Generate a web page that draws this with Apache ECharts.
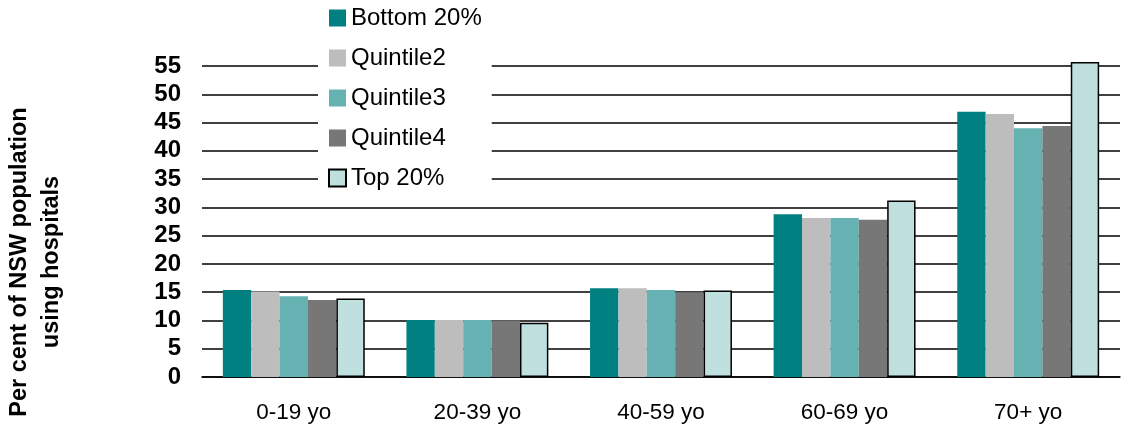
<!DOCTYPE html>
<html>
<head>
<meta charset="utf-8">
<script src="https://cdn.jsdelivr.net/npm/echarts@6/dist/echarts.min.js"></script>
<style>
  html, body { margin: 0; padding: 0; background: #fff; }
  #chart { width: 1125px; height: 432px; }
</style>
</head>
<body>
<div id="chart"></div>
<script>
var chart = echarts.init(document.getElementById('chart'));

// age groups
var categories = ['0-19 yo', '20-39 yo', '40-59 yo', '60-69 yo', '70+ yo'];
// per cent of population using hospitals, by income quintile
var bottom20 = [15.4, 10.1, 15.7, 28.8, 46.9];
var quintile2 = [15.1, 10.1, 15.7, 28.1, 46.5];
var quintile3 = [14.3, 10.1, 15.4, 28.1, 44.0];
var quintile4 = [13.6, 10.0, 15.0, 27.8, 44.4];
var top20 = [13.9, 9.6, 15.3, 31.2, 55.7];

var names = ['Bottom 20%', 'Quintile2', 'Quintile3', 'Quintile4', 'Top 20%'];
var colors = ['#008080', '#BDBDBD', '#66B2B2', '#777777', '#C0E0E0'];
var values = [bottom20, quintile2, quintile3, quintile4, top20];

var font = 'Liberation Sans, Arial';

var series = [];
for (var i = 0; i < names.length; i++) {
    series.push({
        name: names[i],
        type: 'bar',
        data: values[i],
        barGap: '0%',
        barCategoryGap: '22.7%',
        clip: false,
        itemStyle: {
            color: colors[i],
            borderColor: i === 4 ? '#000' : colors[i],
            borderWidth: i === 4 ? 1.5 : 0
        }
    });
}

var option = {
    animation: false,
    grid: { left: 202, right: 5, top: 66, bottom: 55 },
    legend: {
        orient: 'vertical',
        left: 318,
        top: 0,
        padding: [6, 10, 6, 10],
        itemGap: 16,
        itemWidth: 17,
        itemHeight: 17,
        icon: 'rect',
        backgroundColor: '#fff',
        textStyle: { fontFamily: font, fontSize: 24, lineHeight: 24, color: '#000' },
        data: names
    },
    graphic: [{
        type: 'text',
        x: 36,
        y: 262,
        rotation: Math.PI / 2,
        style: {
            text: 'Per cent of NSW population\nusing hospitals',
            fontFamily: font,
            fontWeight: 'bold',
            fontSize: 23.5,
            lineHeight: 32,
            fill: '#000',
            textAlign: 'center',
            textVerticalAlign: 'middle'
        }
    }],
    xAxis: {
        type: 'category',
        data: categories,
        axisTick: { show: false },
        axisLine: { lineStyle: { color: '#000', width: 1.5 } },
        axisLabel: { fontFamily: font, fontSize: 22.5, color: '#000', margin: 24 }
    },
    yAxis: {
        type: 'value',
        min: 0,
        max: 55,
        interval: 5,
        axisLine: { show: false },
        axisTick: { show: false },
        axisLabel: { fontFamily: font, fontSize: 24, fontWeight: 'bold', color: '#000', margin: 21 },
        splitLine: { lineStyle: { color: '#000', width: 1.5 } }
    },
    series: series
};

chart.setOption(option);
</script>
</body>
</html>
